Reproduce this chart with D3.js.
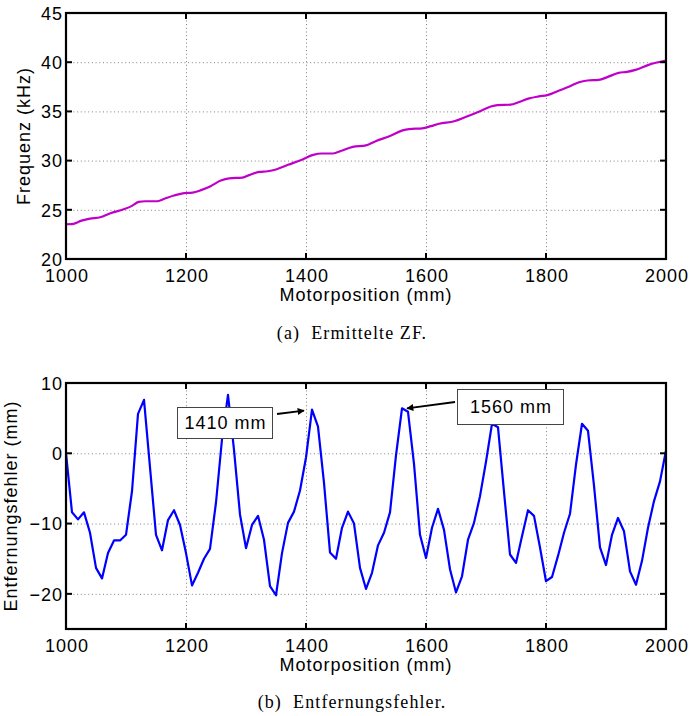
<!DOCTYPE html>
<html>
<head>
<meta charset="utf-8">
<script src="https://cdn.jsdelivr.net/npm/d3@7"></script>
<style>
  html, body { margin: 0; padding: 0; background: #fff; }
  svg { display: block; }
  .tick-label { font-family: "Liberation Sans", Arial, sans-serif; font-size: 18px; letter-spacing: 1px; fill: #000; }
  .axis-title { font-family: "Liberation Sans", Arial, sans-serif; font-size: 18px; letter-spacing: 1px; fill: #000; }
  .caption { font-family: "Liberation Serif", "Times New Roman", serif; font-size: 18px; letter-spacing: 1.1px; fill: #000; }
  .note { font-family: "Liberation Sans", Arial, sans-serif; font-size: 18px; letter-spacing: 1px; fill: #000; }
</style>
</head>
<body>
<svg id="chart" width="692" height="716"></svg>
<script>
// Panel (a): intermediate frequency vs. motor position
const freqPos = [1000, 1010, 1026, 1040, 1057, 1074, 1096, 1110, 1121, 1132, 1152, 1166, 1180, 1197, 1211,
  1225, 1241, 1258, 1272, 1294, 1306, 1322, 1336, 1350, 1370, 1392, 1412, 1426, 1445, 1459, 1478, 1500,
  1517, 1539, 1561, 1572, 1594, 1608, 1622, 1647, 1666, 1688, 1708, 1719, 1741, 1755, 1772, 1788, 1802,
  1822, 1838, 1855, 1869, 1888, 1902, 1921, 1935, 1949, 1971, 2000];
const freqKHz = [23.53, 23.55, 23.9, 24.1, 24.24, 24.65, 25.05, 25.4, 25.8, 25.87, 25.87, 26.17, 26.45, 26.7, 26.75,
  27.0, 27.4, 27.97, 28.2, 28.27, 28.55, 28.85, 28.92, 29.1, 29.57, 30.07, 30.58, 30.72, 30.72, 31.0, 31.4, 31.55,
  32.0, 32.47, 33.07, 33.2, 33.28, 33.5, 33.75, 34.0, 34.43, 34.97, 35.5, 35.64, 35.68, 35.95, 36.32, 36.52, 36.66,
  37.13, 37.5, 37.97, 38.14, 38.2, 38.48, 38.92, 39.02, 39.22, 39.73, 40.17];

// Panel (b): distance error vs. motor position
const errPos = [1000, 1010, 1020, 1030, 1040, 1050, 1060, 1070, 1080, 1090, 1100, 1110, 1120, 1130, 1140,
  1150, 1160, 1170, 1180, 1190, 1200, 1210, 1220, 1230, 1240, 1250, 1260, 1270, 1280, 1290, 1300, 1310,
  1320, 1330, 1340, 1350, 1360, 1370, 1380, 1390, 1400, 1410, 1420, 1430, 1440, 1450, 1460, 1470, 1480,
  1490, 1500, 1510, 1520, 1530, 1540, 1550, 1560, 1570, 1580, 1590, 1600, 1610, 1620, 1630, 1640, 1650,
  1660, 1670, 1680, 1690, 1700, 1710, 1720, 1730, 1740, 1750, 1760, 1770, 1780, 1790, 1800, 1810, 1820,
  1830, 1840, 1850, 1860, 1870, 1880, 1890, 1900, 1910, 1920, 1930, 1940, 1950, 1960, 1970, 1980, 1990, 2000];
const errMM = [0, -8.4, -9.4, -8.4, -11.3, -16.3, -17.8, -14.2, -12.4, -12.4, -11.6, -5.4, 5.6, 7.6, -2,
  -11.6, -13.8, -9.5, -8.1, -10.2, -14.2, -18.8, -17, -15, -13.6, -7, 2, 8.3, 0.5, -8.7, -13.5, -10.2,
  -8.9, -12.3, -18.9, -20.2, -14.2, -9.9, -8.3, -5.3, -0.6, 6.2, 3.8, -4.2, -14.1, -15, -10.6, -8.3, -10,
  -16.3, -19.3, -17, -13.1, -11.3, -8.4, -0.3, 6.4, 5.9, -1.5, -11.6, -14.9, -10.6, -7.9, -10.9, -16.5, -19.8,
  -17.5, -12.3, -9.9, -6.1, -1.2, 4.2, 3.7, -5.5, -14.4, -15.6, -11.8, -8.1, -8.9, -13.4, -18.2, -17.6, -14.6,
  -11.3, -8.6, -1.6, 4.2, 3.2, -4.6, -13.4, -15.9, -11.6, -9.2, -11.1, -16.8, -18.7, -15.3, -10.6, -6.8, -4, 0.4];

const xTicks = [1000, 1200, 1400, 1600, 1800, 2000];
const freqTicks = [20, 25, 30, 35, 40, 45];
const errTicks = [-20, -10, 0, 10];
const notes = [{pos: 1410, text: "1410 mm"}, {pos: 1560, text: "1560 mm"}];

const svg = d3.select("#chart");
const left = 66, right = 666;

function panel(opts) {
  const g = svg.append("g");
  const x = d3.scaleLinear().domain([1000, 2000]).range([left, right]);
  const y = d3.scaleLinear().domain(opts.yDomain).range([opts.bottom, opts.top]);

  // dotted grid at interior ticks
  g.append("g").selectAll("line.vg")
    .data(xTicks.filter(t => t > 1000 && t < 2000)).join("line")
    .attr("x1", d => x(d) + 0.5).attr("x2", d => x(d) + 0.5)
    .attr("y1", opts.top).attr("y2", opts.bottom)
    .attr("stroke", "#808080").attr("stroke-width", 1).attr("stroke-dasharray", "1,2.7");
  g.append("g").selectAll("line.hg")
    .data(opts.yTicks.filter(t => t > opts.yDomain[0] && t < opts.yDomain[1])).join("line")
    .attr("y1", d => y(d) + 0.5).attr("y2", d => y(d) + 0.5)
    .attr("x1", left).attr("x2", right)
    .attr("stroke", "#808080").attr("stroke-width", 1).attr("stroke-dasharray", "1,2.7");

  // data line
  g.append("path")
    .datum(opts.xs.map((v, i) => [v, opts.ys[i]]))
    .attr("fill", "none")
    .attr("stroke", opts.color)
    .attr("stroke-width", 2.2)
    .attr("stroke-linejoin", "round")
    .attr("d", d3.line().x(d => x(d[0])).y(d => y(d[1])).curve(opts.curve));

  // axes with inward ticks on all four sides
  const tk = 6;
  const bx = d3.axisBottom(x).tickValues(xTicks).tickSize(0).tickFormat(d3.format("d"));
  const bAxis = g.append("g").attr("transform", `translate(0,${opts.bottom})`).call(bx);
  bAxis.select(".domain").remove();
  bAxis.selectAll("text").attr("class", "tick-label").attr("dy", null).attr("y", 23).attr("dx", "0.5")
    .style("font-size", null).style("font-family", null);
  g.append("g").selectAll("line").data(xTicks).join("line")
    .attr("x1", d => x(d)).attr("x2", d => x(d))
    .attr("y1", opts.bottom).attr("y2", opts.bottom - tk)
    .attr("stroke", "#000").attr("stroke-width", 2);
  g.append("g").selectAll("line").data(xTicks).join("line")
    .attr("x1", d => x(d)).attr("x2", d => x(d))
    .attr("y1", opts.top).attr("y2", opts.top + tk)
    .attr("stroke", "#000").attr("stroke-width", 2);

  const ly = d3.axisLeft(y).tickValues(opts.yTicks).tickSize(0).tickFormat(d => d3.format("d")(d).replace("-", "\u2212"));
  const lAxis = g.append("g").attr("transform", `translate(${left},0)`).call(ly);
  lAxis.select(".domain").remove();
  lAxis.selectAll("text").attr("class", "tick-label").attr("x", -3).attr("dy", "0.35em")
    .style("font-size", null).style("font-family", null);
  g.append("g").selectAll("line").data(opts.yTicks).join("line")
    .attr("y1", d => y(d)).attr("y2", d => y(d))
    .attr("x1", left).attr("x2", left + tk)
    .attr("stroke", "#000").attr("stroke-width", 2);
  g.append("g").selectAll("line").data(opts.yTicks).join("line")
    .attr("y1", d => y(d)).attr("y2", d => y(d))
    .attr("x1", right).attr("x2", right - tk)
    .attr("stroke", "#000").attr("stroke-width", 2);

  // frame
  g.append("rect")
    .attr("x", left).attr("y", opts.top)
    .attr("width", right - left).attr("height", opts.bottom - opts.top)
    .attr("fill", "none").attr("stroke", "#000").attr("stroke-width", 2.2);

  // titles
  g.append("text").attr("class", "axis-title")
    .attr("x", (left + right) / 2).attr("y", opts.bottom + 42)
    .attr("text-anchor", "middle").text("Motorposition (mm)");
  g.append("text").attr("class", "axis-title")
    .attr("transform", `translate(${opts.yTitleX},${(opts.top + opts.bottom) / 2}) rotate(-90)`)
    .attr("text-anchor", "middle").text(opts.yTitle);
  g.append("text").attr("class", "caption")
    .attr("x", 352).attr("y", opts.bottom + opts.captionOffset)
    .attr("text-anchor", "middle").attr("xml:space", "preserve").text(opts.caption);

  return {g, x, y};
}

panel({
  top: 13, bottom: 259, yDomain: [20, 45], yTicks: freqTicks,
  xs: freqPos, ys: freqKHz, color: "#c000c8", curve: d3.curveMonotoneX,
  yTitle: "Frequenz (kHz)", yTitleX: 30, caption: "(a)  Ermittelte ZF.", captionOffset: 80
});

const b = panel({
  top: 383, bottom: 629, yDomain: [-25, 10], yTicks: errTicks,
  xs: errPos, ys: errMM, color: "#0000ff", curve: d3.curveLinear,
  yTitle: "Entfernungsfehler (mm)", yTitleX: 17, caption: "(b)  Entfernungsfehler.", captionOffset: 79
});

// arrowhead marker
svg.append("defs").append("marker")
  .attr("id", "arrow").attr("viewBox", "0 0 10 10")
  .attr("refX", 9).attr("refY", 5)
  .attr("markerWidth", 9).attr("markerHeight", 7)
  .attr("markerUnits", "userSpaceOnUse")
  .attr("orient", "auto")
  .append("path").attr("d", "M0,0 L10,5 L0,10 z").attr("fill", "#000");

// annotation boxes pointing at the peaks
const boxes = [
  {x0: 177, y0: 407, w: 95, h: 31, tail: [277, 414], dx: -8, dy: 1},
  {x0: 457, y0: 389, w: 106, h: 35, tail: [455, 402], dx: 5, dy: 0}
];
notes.forEach((n, i) => {
  const bx = boxes[i];
  const v = errMM[errPos.indexOf(n.pos)];
  const px = b.x(n.pos) + bx.dx, py = b.y(v) + bx.dy;
  svg.append("line")
    .attr("x1", bx.tail[0]).attr("y1", bx.tail[1])
    .attr("x2", px).attr("y2", py)
    .attr("stroke", "#000").attr("stroke-width", 1.8)
    .attr("marker-end", "url(#arrow)");
  svg.append("rect")
    .attr("x", bx.x0 + 0.5).attr("y", bx.y0 + 0.5)
    .attr("width", bx.w).attr("height", bx.h)
    .attr("fill", "#fff").attr("stroke", "#444").attr("stroke-width", 1);
  svg.append("text").attr("class", "note")
    .attr("x", bx.x0 + bx.w / 2 + 1).attr("y", bx.y0 + bx.h / 2 + 6.5)
    .attr("text-anchor", "middle").text(n.text);
});
</script>
</body>
</html>
